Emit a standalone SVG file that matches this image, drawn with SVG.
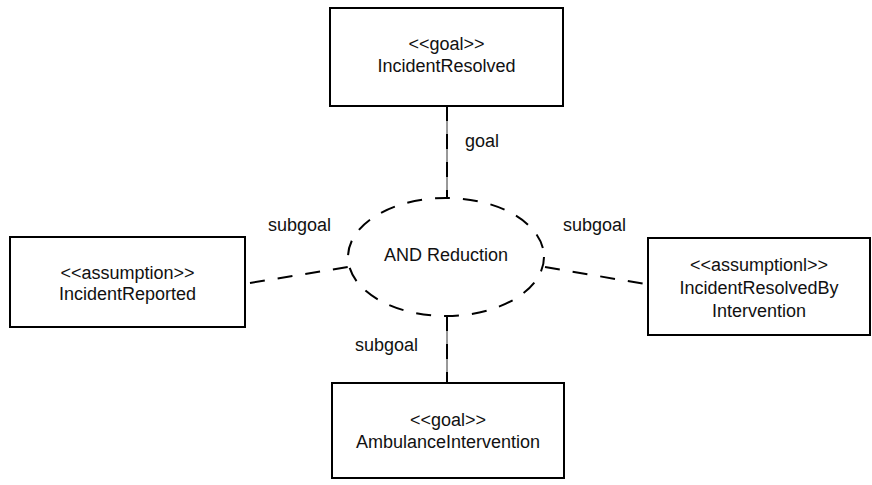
<svg xmlns="http://www.w3.org/2000/svg" width="872" height="485" viewBox="0 0 872 485">
<style>
.box{fill:#fff;stroke:#000;stroke-width:2}
.t{font-family:"Liberation Sans",Arial,sans-serif;font-size:18px;fill:#111;text-anchor:middle}
.l{font-family:"Liberation Sans",Arial,sans-serif;font-size:18px;fill:#111}
.dash{fill:none;stroke:#000;stroke-width:2;stroke-dasharray:15,13}
.thin{fill:none;stroke:#333;stroke-width:1}
</style>
<rect width="872" height="485" fill="#fff"/>
<g id="connectors">
<line class="thin" x1="447" y1="106" x2="447" y2="198"/>
<line class="dash" x1="447" y1="106" x2="447" y2="198"/>
<line class="thin" x1="447" y1="316" x2="447" y2="383"/>
<line class="dash" x1="447" y1="316" x2="447" y2="383"/>
<line class="dash" x1="250" y1="283" x2="348" y2="267"/>
<line class="dash" x1="545" y1="267" x2="645" y2="284"/>
<text class="l" x="465" y="147">goal</text>
<text class="l" x="268" y="231">subgoal</text>
<text class="l" x="563" y="231">subgoal</text>
<text class="l" x="355" y="351">subgoal</text>
</g>
<g id="and-reduction">
<ellipse class="dash" cx="446" cy="257" rx="98" ry="59"/>
<text class="t" x="446" y="261">AND Reduction</text>
</g>
<g id="incident-resolved">
<rect class="box" x="330" y="8" width="233" height="98"/>
<text class="t" x="446.5" y="50">&lt;&lt;goal&gt;&gt;</text>
<text class="t" x="446.5" y="72">IncidentResolved</text>
</g>
<g id="incident-reported">
<rect class="box" x="10" y="237" width="235" height="90"/>
<text class="t" x="127.5" y="279">&lt;&lt;assumption&gt;&gt;</text>
<text class="t" x="127.5" y="300">IncidentReported</text>
</g>
<g id="incident-resolved-by-intervention">
<rect class="box" x="648" y="238" width="222" height="97"/>
<text class="t" x="759" y="271">&lt;&lt;assumptionl&gt;&gt;</text>
<text class="t" x="759" y="294">IncidentResolvedBy</text>
<text class="t" x="759" y="317">Intervention</text>
</g>
<g id="ambulance-intervention">
<rect class="box" x="332" y="383" width="232" height="95"/>
<text class="t" x="448" y="426">&lt;&lt;goal&gt;&gt;</text>
<text class="t" x="448" y="448">AmbulanceIntervention</text>
</g>
</svg>
